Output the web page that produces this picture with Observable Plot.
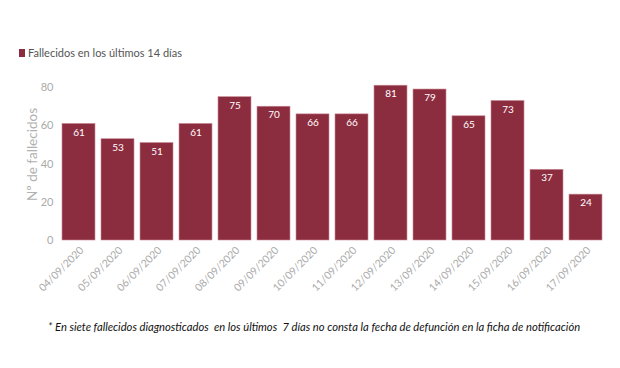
<!DOCTYPE html>
<html>
<head>
<meta charset="utf-8">
<script src="https://cdn.jsdelivr.net/npm/d3@7"></script>
<script src="https://cdn.jsdelivr.net/npm/@observablehq/plot@0.6"></script>
<style>
  html, body { margin: 0; padding: 0; background: #fff; }
  body { width: 620px; height: 368px; overflow: hidden; font-family: Lato, "Open Sans", sans-serif; }
  #legend { height: 62px; box-sizing: border-box; padding: 46px 0 0 19px; font-size: 11px; line-height: 14px; color: #555; }
  #legend .sw { display: inline-block; width: 6px; height: 8px; background: #8c2d3f; margin-right: 3px; vertical-align: -0px; }
  #chart svg { display: block; }
  #note { padding: 28px 0 0 48px; font-size: 11.2px; line-height: 14px; font-style: italic; color: #111; white-space: nowrap; }
</style>
</head>
<body>
<div id="legend"><span class="sw"></span>Fallecidos en los últimos 14 días</div>
<div id="chart"></div>
<div id="note">* En siete fallecidos diagnosticados&nbsp; en los últimos&nbsp; 7 días no consta la fecha de defunción en la ficha de notificación</div>
<script>
const fechas = ["04/09/2020","05/09/2020","06/09/2020","07/09/2020","08/09/2020","09/09/2020","10/09/2020","11/09/2020","12/09/2020","13/09/2020","14/09/2020","15/09/2020","16/09/2020","17/09/2020"];
const fallecidos = [61, 53, 51, 61, 75, 70, 66, 66, 81, 79, 65, 73, 37, 24];
const yTicks = [0, 20, 40, 60, 80];

const data = fechas.map((f, i) => ({fecha: f, valor: fallecidos[i]}));
const color = "#8c2d3f";

const chart = Plot.plot({
  width: 620,
  height: 230,
  marginTop: 6,
  marginBottom: 52,
  marginLeft: 56,
  marginRight: 11,
  style: {fontFamily: "Lato, 'Open Sans', sans-serif", background: "#fff"},
  x: {domain: fechas, padding: 0.15, label: null},
  y: {domain: [0, 90], ticks: yTicks, label: "Nº de fallecidos"},
  marks: [
    Plot.barY(data, {x: "fecha", y: "valor", fill: color, stroke: "#c98a96", strokeWidth: 0.6}),
    Plot.text(data, {x: "fecha", y: "valor", text: d => String(d.valor), dy: 8.5, fill: "#fff", fontSize: 10}),
    Plot.axisY({ticks: yTicks, tickSize: 0, tickPadding: 3, fontSize: 11, color: "#aaa", label: "Nº de fallecidos", labelAnchor: "center", labelArrow: "none", labelOffset: 29, stroke: "none"}),
    Plot.axisX({tickSize: 0, tickRotate: -45, tickPadding: 8, dx: 3, fontSize: 10.5, color: "#aaa", label: null})
  ]
});
chart.querySelectorAll("[aria-label='y-axis label'] text, [aria-label='y-axis label']").forEach(e => { e.setAttribute("font-size", "13.5"); e.setAttribute("fill", "#b0b0b0"); });
document.getElementById("chart").appendChild(chart);
</script>
</body>
</html>
